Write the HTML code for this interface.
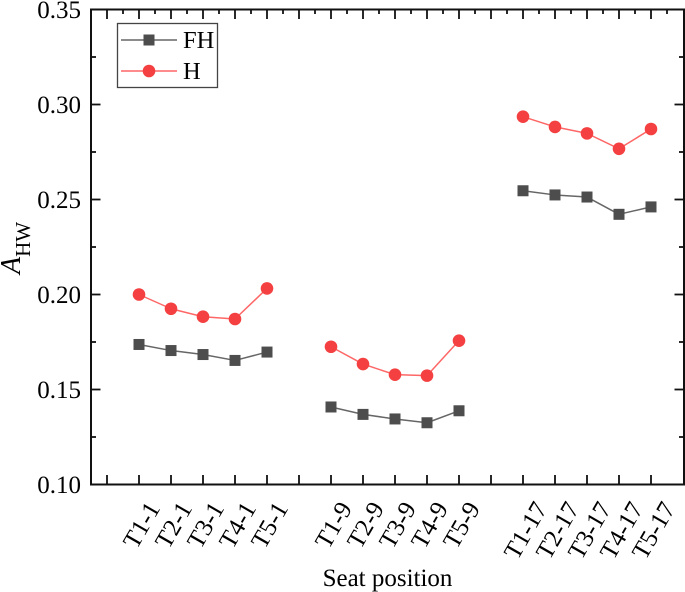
<!DOCTYPE html>
<html>
<head>
<meta charset="utf-8">
<title>Seat position chart</title>
<style>
html,body{margin:0;padding:0;background:#fff;width:685px;height:592px;overflow:hidden}
svg{display:block;filter:blur(0.35px)}
text{font-family:"Liberation Serif",serif;fill:#000}
</style>
</head>
<body>
<svg id="chart" xmlns="http://www.w3.org/2000/svg" width="685" height="592" viewBox="0 0 685 592">
  <g id="marks"></g>
  <g id="axes"></g>
  <text x="387.5" y="586" text-anchor="middle" font-size="25">Seat position</text>
  <text transform="translate(30,274) rotate(-90)" font-size="21"><tspan font-size="28" font-style="italic" dy="-10">A</tspan><tspan dy="10">HW</tspan></text>
  <g>
    <rect x="117.5" y="23.5" width="100" height="64" fill="#fff" stroke="#444" stroke-width="1.3"/>
    <g>
      <line x1="121" x2="177" y1="40" y2="40" stroke="#666" stroke-width="1.5"/>
      <rect x="143.5" y="34.5" width="11" height="11" fill="#4d4d4d"/>
      <text x="183" y="48" font-size="24.5">FH</text>
    </g>
    <g>
      <line x1="121" x2="177" y1="71" y2="71" stroke="#f66" stroke-width="1.5"/>
      <circle cx="149" cy="71" r="6.3" fill="#f44040"/>
      <text x="183" y="79" font-size="24.5">H</text>
    </g>
  </g>
</svg>
<script>
var categories = ["", "T1-1", "T2-1", "T3-1", "T4-1", "T5-1", "", "T1-9", "T2-9", "T3-9", "T4-9", "T5-9", "", "T1-17", "T2-17", "T3-17", "T4-17", "T5-17"];
var seriesFH = [null, 0.1737, 0.1705, 0.1684, 0.1653, 0.1697, null, 0.1408, 0.1369, 0.1345, 0.1325, 0.1388, null, 0.2546, 0.2524, 0.2513, 0.2422, 0.2461];
var seriesH = [null, 0.2000, 0.1925, 0.1883, 0.1871, 0.2032, null, 0.1725, 0.1634, 0.1578, 0.1573, 0.1757, null, 0.2936, 0.2882, 0.2848, 0.2767, 0.2871];
var yTicks = [0.10, 0.15, 0.20, 0.25, 0.30, 0.35];
var yTickLabels = ["0.10", "0.15", "0.20", "0.25", "0.30", "0.35"];
var yMinorTicks = [0.125, 0.175, 0.225, 0.275, 0.325];

var NS = "http://www.w3.org/2000/svg";
var plotLeft = 91, plotRight = 684, plotTop = 9.5, plotBottom = 484.5;
function xPos(i) { return 107 + 32 * i; }
function yPos(v) { return plotBottom - (v - 0.10) / 0.25 * (plotBottom - plotTop); }
function make(tag, parent, attrs) {
  var el = document.createElementNS(NS, tag);
  for (var k in attrs) el.setAttribute(k, attrs[k]);
  parent.appendChild(el);
  return el;
}
var axes = document.getElementById("axes");
var marks = document.getElementById("marks");

var frame = make("rect", axes, { x: plotLeft, y: plotTop, width: plotRight - plotLeft, height: plotBottom - plotTop, stroke: "#111", "stroke-width": 2, fill: "none" });



function tickLine(x1, y1, x2, y2) {
  var t = make("line", axes, { x1: x1, y1: y1, x2: x2, y2: y2, stroke: "#111", "stroke-width": 1.8 });
  
  
}
yTicks.forEach(function (v, i) {
  var y = yPos(v);
  tickLine(plotLeft, y, plotLeft + 9.5, y);
  tickLine(plotRight, y, plotRight - 9.5, y);
  var lab = make("text", axes, { x: 81, y: y + 8.5, "text-anchor": "end", "font-size": 25 });
  
  
  lab.textContent = yTickLabels[i];
});
yMinorTicks.forEach(function (v) {
  var y = yPos(v);
  tickLine(plotLeft, y, plotLeft + 5, y);
  tickLine(plotRight, y, plotRight - 5, y);
});
categories.forEach(function (c, i) {
  var x = xPos(i);
  tickLine(x, plotBottom, x, plotBottom - 9.5);
  tickLine(x, plotTop, x, plotTop + 9.5);
  tickLine(x + 16, plotTop, x + 16, plotTop + 4.5);
  if (!c) return;
  var lab = make("text", axes, { "text-anchor": "middle", "font-size": 25 });
  
  
  lab.textContent = c;
  var len = lab.getComputedTextLength();
  var cy = 504 + len / 2 * 0.866;
  lab.setAttribute("transform", "translate(" + (x + 2.5) + "," + cy + ") rotate(-60)");
  lab.setAttribute("dy", "0.33em");
});

function drawSeries(values, lineColor, fill, kind) {
  var g = make("g", marks, {});
  
  
  for (var i = 1; i < values.length; i++) {
    if (values[i] == null || values[i - 1] == null) continue;
    var seg = make("line", g, { x1: xPos(i - 1), y1: yPos(values[i - 1]), x2: xPos(i), y2: yPos(values[i]), stroke: lineColor, "stroke-width": 1.5 });
    
    
  }
  values.forEach(function (v, i) {
    if (v == null) return;
    var m;
    if (kind === "square") {
      m = make("rect", g, { x: xPos(i) - 5.5, y: yPos(v) - 5.5, width: 11, height: 11, fill: fill });
    } else {
      m = make("circle", g, { cx: xPos(i), cy: yPos(v), r: 6.3, fill: fill });
    }
    
    
  });
}
drawSeries(seriesFH, "#666", "#4d4d4d", "square");
drawSeries(seriesH, "#f66", "#f44040", "circle");
</script>
</body>
</html>
